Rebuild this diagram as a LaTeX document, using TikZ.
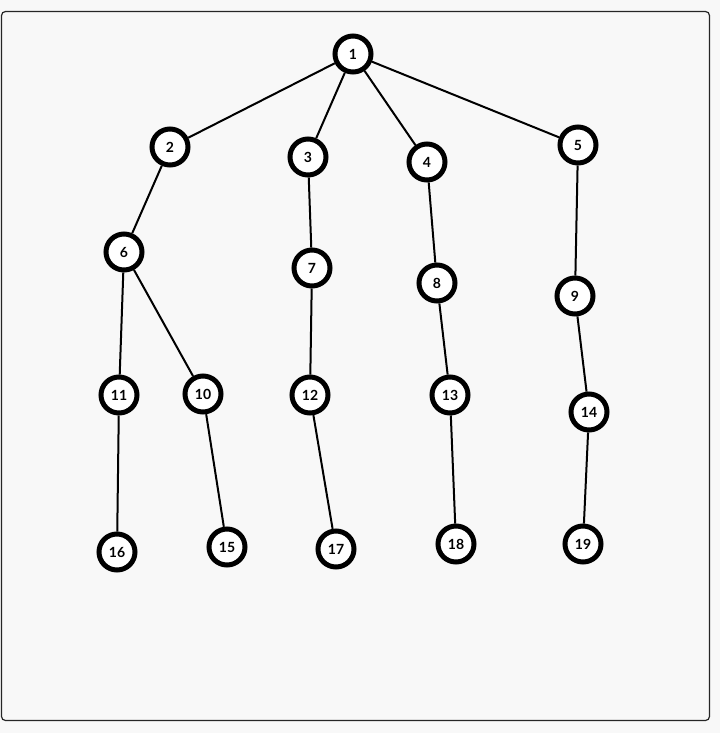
\documentclass[tikz,border=0pt]{standalone}
\usepackage{fontspec}
\setmainfont{Lato}
\usepackage{tikz}
\usetikzlibrary{positioning, calc}
\definecolor{canvas}{HTML}{F8F8F8}
\tikzstyle{vertex} = [circle, minimum size=27pt, inner sep=0pt, line width=3.75pt, draw=black, fill=white, font=\bfseries\fontsize{10.5}{11}\selectfont]
\tikzstyle{edge} = [line width=1.5pt, black]
\tikzstyle{frame} = [draw=black!85, line width=0.9pt, rounded corners=3pt]

\begin{document}
\begin{tikzpicture}[x=0.75pt, y=-0.75pt]
    % Canvas
    \fill [canvas] (0,0) rectangle (720,733);
    \useasboundingbox (0,0) rectangle (720,733);
    \draw [frame] (1.5,11.5) rectangle (709.5,720.5);

    % Root and first level
    \node (n1) [vertex] at (353,54) {1};
    \node (n2) [vertex] at (170,147) {2};
    \node (n3) [vertex] at (308,157) {3};
    \node (n4) [vertex] at (427,162) {4};
    \node (n5) [vertex] at (578,145) {5};

    % Second level
    \node (n6) [vertex] at (124,252) {6};
    \node (n7) [vertex] at (312,268) {7};
    \node (n8) [vertex] at (437,283) {8};
    \node (n9) [vertex] at (575,296) {9};

    % Third level
    \node (n11) [vertex] at (119,395) {11};
    \node (n10) [vertex] at (203,394) {10};
    \node (n12) [vertex] at (310,395) {12};
    \node (n13) [vertex] at (450,395) {13};
    \node (n14) [vertex] at (589,412) {14};

    % Leaves
    \node (n16) [vertex] at (117,552) {16};
    \node (n15) [vertex] at (227,547) {15};
    \node (n17) [vertex] at (336,549) {17};
    \node (n18) [vertex] at (456,544) {18};
    \node (n19) [vertex] at (583,544) {19};

    % Edges
    \draw [edge] (n1) -- (n2);
    \draw [edge] (n1) -- (n3);
    \draw [edge] (n1) -- (n4);
    \draw [edge] (n1) -- (n5);
    \draw [edge] (n2) -- (n6);
    \draw [edge] (n3) -- (n7);
    \draw [edge] (n4) -- (n8);
    \draw [edge] (n5) -- (n9);
    \draw [edge] (n6) -- (n11);
    \draw [edge] (n6) -- (n10);
    \draw [edge] (n7) -- (n12);
    \draw [edge] (n8) -- (n13);
    \draw [edge] (n9) -- (n14);
    \draw [edge] (n11) -- (n16);
    \draw [edge] (n10) -- (n15);
    \draw [edge] (n12) -- (n17);
    \draw [edge] (n13) -- (n18);
    \draw [edge] (n14) -- (n19);
\end{tikzpicture}
\end{document}
